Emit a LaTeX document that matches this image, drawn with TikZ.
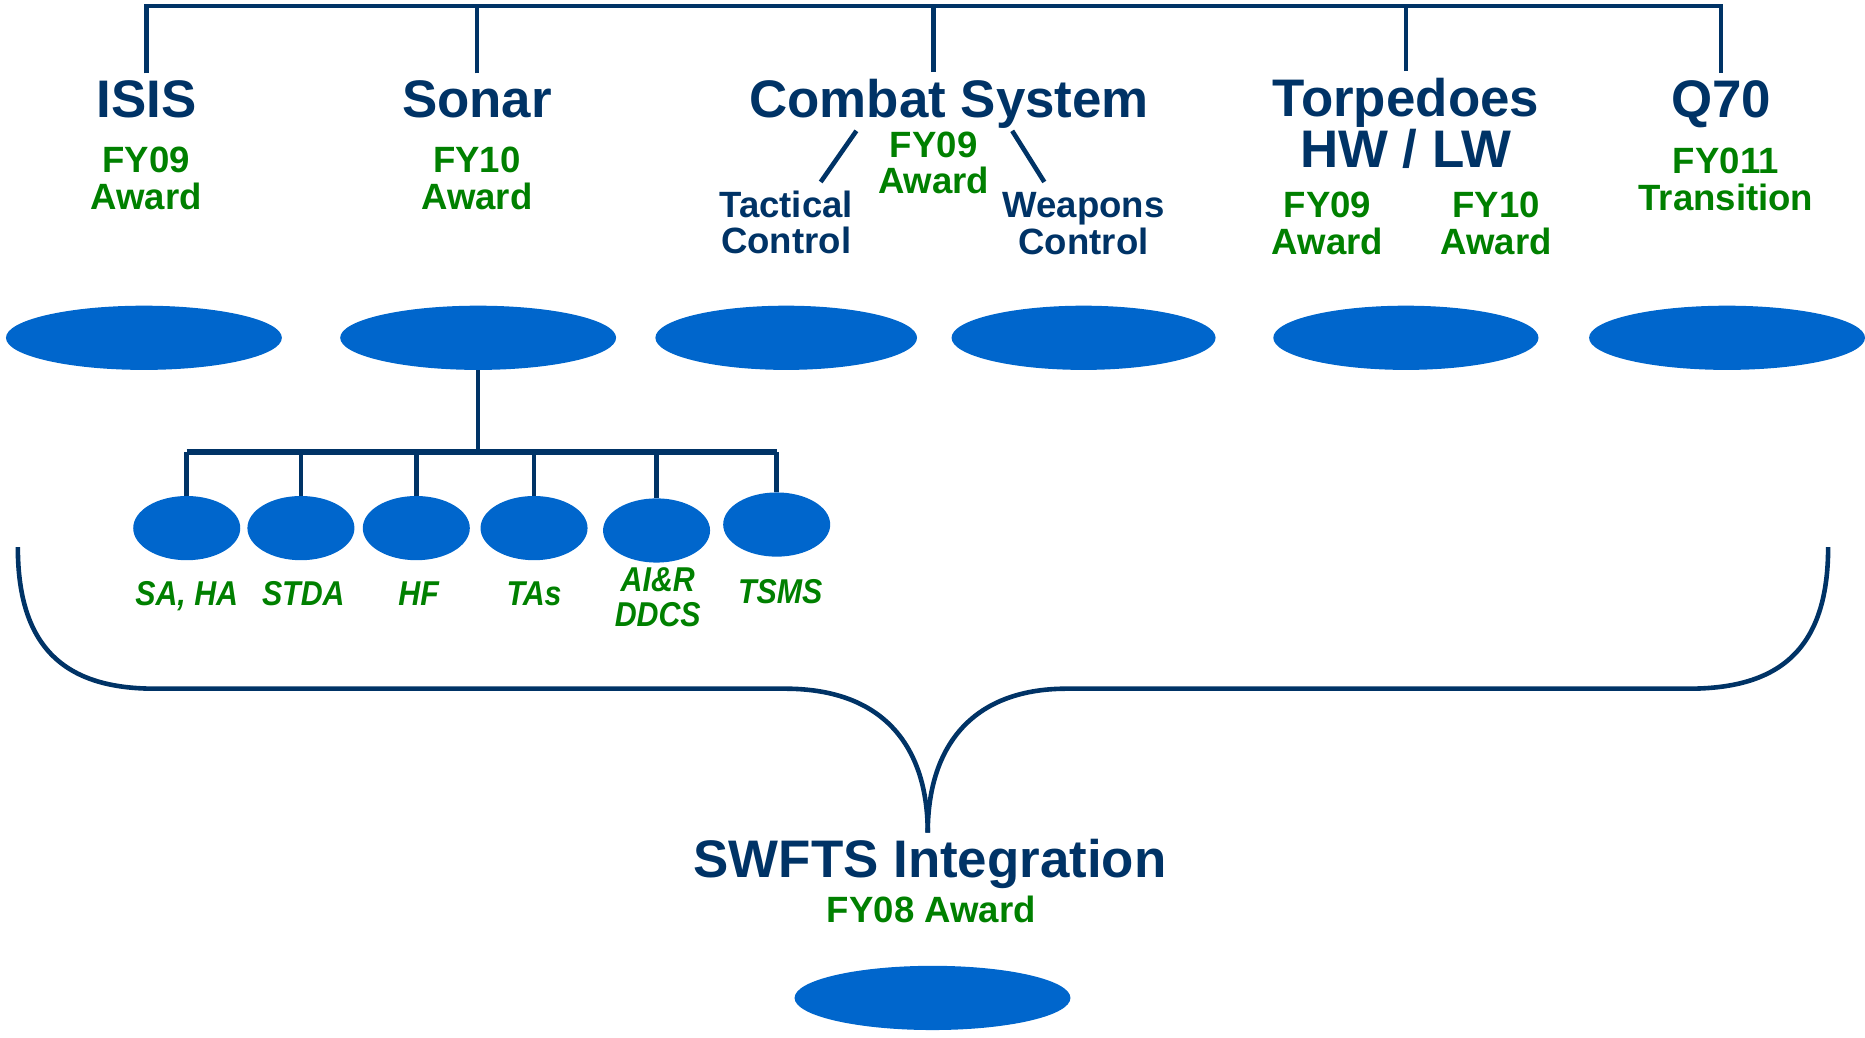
\documentclass[tikz,border=0pt]{standalone}
\usepackage{fontspec}
\setmainfont{Liberation Sans}
\newfontfamily\condfont[FakeStretch=0.88]{Liberation Sans}
\usetikzlibrary{shapes.geometric,calc}
\definecolor{swnavy}{RGB}{0,51,102}
\definecolor{swgreen}{RGB}{0,128,0}
\definecolor{swblue}{RGB}{0,102,204}
\tikzset{
title/.style={text=swnavy, font=\bfseries\fontsize{25.3}{24.5}\selectfont},
award/.style={text=swgreen, align=center, font=\bfseries\fontsize{17.5}{17.6}\selectfont},
subsys/.style={text=swnavy, align=center, font=\bfseries\fontsize{17.5}{17.6}\selectfont},
tag/.style={text=swgreen, align=center, font=\condfont\bfseries\itshape\fontsize{16.5}{16.5}\selectfont},
bigoval/.style={ellipse, fill=swblue, minimum width=4.64cm, minimum height=1.08cm, inner sep=0pt},
smalloval/.style={ellipse, fill=swblue, minimum width=1.8cm, minimum height=1.08cm, inner sep=0pt},
conn/.style={draw=swnavy, line width=2.2pt},
subconn/.style={draw=swnavy, line width=3pt}
}
\begin{document}
\begin{tikzpicture}[x=0.02cm, y=-0.02cm]
\useasboundingbox (0,0) rectangle (1568,872);

%Top level programs
\node[title, anchor=base] (isis) at (123,99) {ISIS};
\node[title, anchor=base] (sonar) at (401,99) {Sonar};
\node[title, anchor=base] (combat) at (798,99) {Combat System};
\node[title, align=center] (torp) at (1182,104) {Torpedoes\\HW / LW};
\node[title, anchor=base] (q70) at (1447,99) {Q70};

\node[award] (isisaward) at (123,150) {FY09\\Award};
\node[award] (sonaraward) at (401,150) {FY10\\Award};
\node[award] (combataward) at (785,137) {FY09\\Award};
\node[subsys] (tactical) at (661,187) {Tactical\\Control};
\node[subsys] (weapons) at (911,188) {Weapons\\Control};
\node[award] (hwaward) at (1116,188) {FY09\\Award};
\node[award] (lwaward) at (1258,188) {FY10\\Award};
\node[award] (q70award) at (1451,151) {FY011\\Transition};

\node[bigoval] (isisov) at (121,284) {};
\node[bigoval] (sonarov) at (402,284) {};
\node[bigoval, minimum width=4.4cm] (tacticalov) at (661,284) {};
\node[bigoval, minimum width=4.44cm] (weaponsov) at (911,284) {};
\node[bigoval, minimum width=4.46cm] (torpov) at (1182,284) {};
\node[bigoval] (q70ov) at (1452,284) {};

%Sonar breakdown
\foreach \n/\x/\y in {saha/157/444, stda/253/444, hf/350/444, tas/449/444, air/552/446, tsms/653/441}
  \node[smalloval] (ov\n) at (\x,\y) {};
\node[tag, anchor=base] (tsaha) at (157,509) {SA, HA};
\node[tag, anchor=base] (tstda) at (255,509) {STDA};
\node[tag, anchor=base] (thf) at (352,509) {HF};
\node[tag, anchor=base] (ttas) at (449,509) {TAs};
\node[tag] (tair) at (553,502) {AI\&R\\DDCS};
\node[tag, anchor=base] (ttsms) at (656,507) {TSMS};

%Integration
\node[title, anchor=base] (swfts) at (782,738) {SWFTS Integration};
\node[award, anchor=base] (swftsaward) at (783,776) {FY08 Award};
\node[bigoval] (swftsov) at (784,839) {};

%Connectors
\coordinate (topbar) at (0,5);
\draw[conn] (isis.north) -- (isis.north |- topbar) -- (q70.north |- topbar) -- (q70.north);
\foreach \n in {sonar,torp}
  \draw[conn] (\n.north) -- (\n.north |- topbar);
\draw[conn] (combataward |- combat.north) -- (combataward |- topbar);

\coordinate (tacup) at (720,110);
\coordinate (taclow) at (690,153);
\coordinate (wpnup) at (851,110);
\coordinate (wpnlow) at (878,153);
\draw[conn] (tacup) -- (taclow);
\draw[conn] (wpnup) -- (wpnlow);

\coordinate (subbar) at (0,380);
\draw[conn] (sonarov.south) -- (sonarov.south |- subbar);
\draw[subconn] (ovsaha.north |- subbar) -- (ovtsms.north |- subbar);
\foreach \n in {saha,stda,hf,tas,air,tsms}
  \draw[conn] (ov\n.north) -- (ov\n.north |- subbar);

% brace
\coordinate (braceL) at (15,460);
\coordinate (braceR) at (1537,460);
\coordinate (cusp) at (780,700);
\draw[conn] (braceL) .. controls (15,545) and (55,579) .. (130,579) -- (660,579)
  .. controls (745,579) and (780,630) .. (cusp);
\draw[conn] (braceR) .. controls (1537,545) and (1497,579) .. (1420,579) -- (897,579)
  .. controls (815,579) and (780,630) .. (cusp);
\end{tikzpicture}
\end{document}
